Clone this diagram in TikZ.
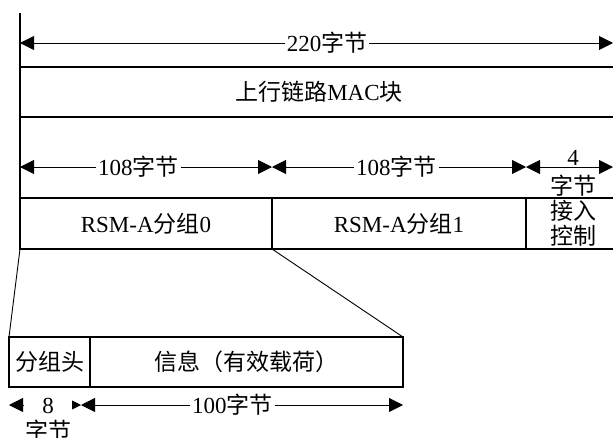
\documentclass[tikz,border=0pt]{standalone}
\usepackage{fontspec}
\setmainfont{Liberation Serif}
\newfontfamily\cjk{Noto Sans CJK SC}
\usepackage{tikz}
\usetikzlibrary{positioning,arrows.meta}

\begin{document}
\begin{tikzpicture}[x=1pt,y=-1pt,
				box/.style={
					draw, line width=1.1pt, align=center,
					outer sep=0pt, inner sep=0pt,
					minimum height=51pt,
					font=\fontsize{23}{25}\selectfont,
				},
				lbl/.style={
					inner sep=2pt, align=center,
					font=\fontsize{23}{26}\selectfont,
				},
				dimln/.style={
					{Triangle[length=14pt,width=14pt]}-{Triangle[length=14pt,width=14pt]},
					line width=0.9pt,
				}
				]
				\useasboundingbox (0,0) rectangle (613,437);
				
				% upper blocks
				\node[box, minimum width=598pt, minimum height=50pt] (mac) at (319,92) {{\cjk 上行链路}MAC{\cjk 块}};
				\node[box, minimum width=252pt] (rsm0) at (146,223.5) {RSM-A{\cjk 分组}0};
				\node[box, minimum width=254pt, right=0pt of rsm0] (rsm1) {RSM-A{\cjk 分组}1};
				\node[box, minimum width=94pt, right=0pt of rsm1] (acc) {{\cjk 接入}\\{\cjk 控制}};
				
				% lower blocks
				\node[box, minimum width=81pt, minimum height=50pt] (hdr) at (49.5,362) {{\cjk 分组头}};
				\node[box, minimum width=313pt, minimum height=50pt, right=0pt of hdr] (info) {{\cjk 信息（有效载荷）}};
				
				\draw[line width=1.1pt] (20,13) -- (rsm0.south west);
				\draw[line width=0.9pt] (rsm0.south west) -- (hdr.north west);
				\draw[line width=0.9pt] (rsm0.south east) -- (info.north east);
				
				% dimension lines
				\coordinate (t0) at (20,43);
				\coordinate (t1) at (613,43);
				\draw[dimln] (t0) -- node[lbl, fill=white, pos=.518] (ltot) {220{\cjk 字节}} (t1);
				
				\coordinate (r0) at (20,167);
				\coordinate (r1) at (272,167);
				\coordinate (r2) at (526,167);
				\coordinate (r3) at (613,167);
				\draw[dimln] (r0) -- node[lbl, fill=white, pos=.47] (l0) {108{\cjk 字节}} (r1);
				\draw[dimln] (r1) -- node[lbl, fill=white, pos=.49] (l1) {108{\cjk 字节}} (r2);
				\draw[dimln] (r2) -- (r3);
				\node[lbl] (l2) at (573,173) {4\\[3pt]{\cjk 字节}};
				
				\coordinate (h0) at (9,405);
				\coordinate (h1) at (81,405);
				\coordinate (h2) at (403,405);
				\draw[dimln] (h0) -- (h1);
				\node[lbl, fill=white, inner sep=1pt] (l8) at (48,420) {8\\{\cjk 字节}};
				\draw[dimln] (h1) -- node[lbl, fill=white, pos=.47] (l100) {100{\cjk 字节}} (h2);
			\end{tikzpicture}
\end{document}
